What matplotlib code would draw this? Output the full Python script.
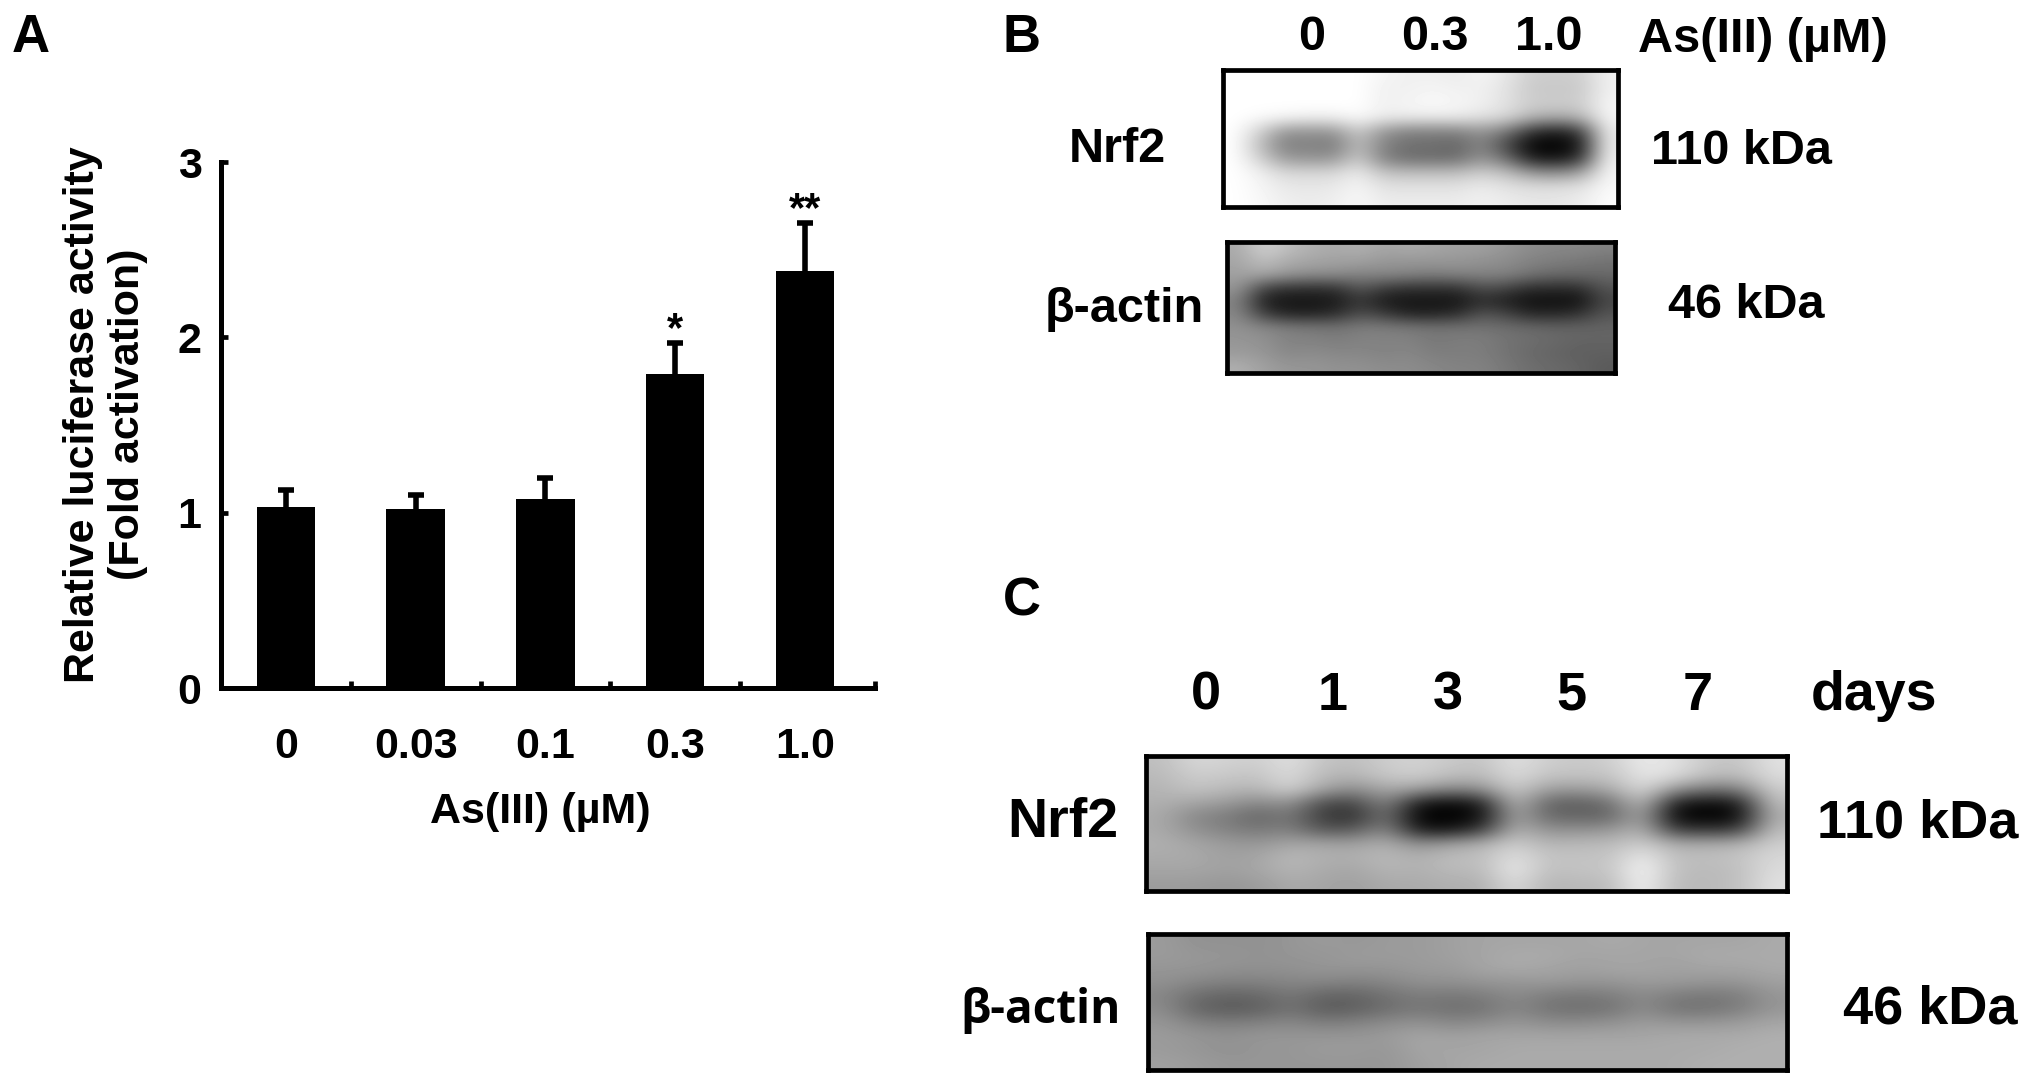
import numpy as np
import matplotlib
matplotlib.use('Agg')
import matplotlib.pyplot as plt

W, H = 2031, 1083
plt.rcParams['font.family'] = ['Liberation Sans', 'DejaVu Sans']
plt.rcParams['font.weight'] = 'bold'

# panel A values
doses = ['0', '0.03', '0.1', '0.3', '1.0']
activity = [1.035, 1.02, 1.08, 1.79, 2.38]
err_top = [1.13, 1.10, 1.20, 1.97, 2.65]
stars = ['', '', '', '*', '**']

# grey levels read from the blots (rows top to bottom)
blot_b_nrf2 = [
    [255, 255, 255, 255, 255, 255, 245, 240, 240, 235, 245, 230, 205, 205, 205, 240],
    [255, 255, 255, 255, 255, 255, 240, 240, 245, 240, 240, 225, 200, 200, 200, 240],
    [255, 255, 255, 255, 255, 255, 240, 245, 250, 245, 240, 225, 205, 205, 205, 245],
    [255, 250, 245, 240, 240, 250, 235, 235, 235, 235, 225, 215, 180, 170, 180, 245],
    [255, 210, 150, 150, 150, 205, 150, 130, 130, 130, 150, 120, 50, 30, 60, 235],
    [255, 190, 125, 130, 120, 190, 130, 110, 110, 100, 135, 70, 5, 0, 20, 235],
    [255, 210, 155, 150, 150, 205, 130, 110, 110, 110, 150, 110, 30, 20, 50, 240],
    [255, 240, 215, 215, 215, 235, 195, 190, 190, 190, 205, 190, 150, 140, 160, 245],
    [255, 245, 232, 230, 232, 245, 225, 225, 225, 225, 235, 225, 220, 220, 225, 248],
    [255, 248, 238, 235, 238, 248, 235, 235, 235, 235, 240, 235, 230, 230, 235, 252],
]
blot_b_actin = [
    [170, 210, 190, 175, 170, 175, 165, 170, 165, 160, 160, 150, 140, 135, 135, 130],
    [165, 190, 170, 165, 160, 160, 150, 150, 150, 150, 145, 140, 130, 125, 120, 115],
    [160, 165, 150, 140, 140, 130, 135, 130, 125, 130, 130, 130, 115, 105, 105, 105],
    [150, 70, 50, 50, 50, 90, 60, 50, 50, 50, 80, 70, 45, 45, 45, 85],
    [130, 30, 20, 20, 25, 55, 25, 20, 20, 20, 45, 30, 15, 15, 15, 70],
    [135, 65, 35, 35, 45, 80, 60, 35, 35, 45, 85, 70, 40, 40, 50, 85],
    [145, 135, 125, 120, 115, 125, 125, 120, 115, 115, 115, 110, 105, 100, 100, 100],
    [150, 145, 130, 130, 125, 130, 130, 130, 120, 125, 125, 115, 110, 105, 100, 100],
    [155, 150, 135, 140, 135, 135, 130, 135, 125, 125, 125, 115, 105, 100, 95, 95],
    [175, 160, 150, 150, 145, 145, 140, 140, 135, 130, 130, 120, 110, 105, 100, 90],
]
blot_c_nrf2 = [
    [190, 215, 210, 205, 225, 195, 190, 205, 210, 200, 195, 225, 205, 200, 205, 235, 225, 200, 195, 225],
    [185, 205, 200, 195, 220, 185, 180, 200, 205, 190, 185, 220, 195, 195, 195, 230, 220, 190, 185, 220],
    [180, 195, 185, 180, 210, 165, 140, 170, 160, 135, 145, 205, 160, 155, 170, 220, 150, 120, 125, 205],
    [175, 165, 155, 135, 150, 75, 70, 140, 25, 10, 30, 190, 100, 95, 110, 195, 30, 15, 25, 190],
    [170, 135, 125, 100, 120, 60, 45, 120, 0, 0, 10, 170, 105, 100, 100, 170, 5, 0, 5, 175],
    [170, 145, 130, 120, 130, 85, 90, 140, 25, 20, 60, 180, 145, 145, 150, 180, 60, 55, 60, 190],
    [175, 165, 155, 150, 165, 165, 160, 175, 140, 160, 175, 205, 180, 185, 185, 205, 170, 170, 175, 205],
    [170, 170, 160, 165, 185, 175, 175, 185, 175, 190, 190, 225, 195, 195, 195, 235, 190, 190, 195, 215],
    [165, 165, 160, 165, 180, 170, 165, 180, 175, 185, 185, 235, 190, 195, 195, 250, 190, 185, 190, 220],
    [155, 155, 150, 155, 170, 165, 160, 170, 170, 175, 175, 220, 180, 185, 185, 245, 185, 185, 190, 225],
]
blot_c_actin = [
    [155, 145, 145, 145, 150, 155, 150, 155, 155, 160, 165, 165, 165, 165, 170, 165, 165, 165, 165, 170],
    [155, 150, 150, 145, 150, 150, 155, 155, 155, 160, 165, 170, 170, 165, 165, 165, 165, 170, 170, 170],
    [150, 150, 145, 145, 145, 150, 150, 150, 155, 155, 165, 170, 165, 160, 165, 165, 160, 165, 165, 170],
    [145, 135, 130, 130, 135, 135, 130, 135, 145, 145, 150, 150, 155, 150, 150, 155, 155, 150, 150, 160],
    [135, 110, 100, 105, 120, 100, 100, 115, 125, 120, 125, 140, 125, 120, 125, 140, 125, 120, 125, 150],
    [140, 100, 90, 95, 115, 90, 95, 110, 120, 110, 115, 135, 115, 110, 115, 140, 115, 115, 125, 150],
    [150, 130, 125, 130, 135, 125, 130, 140, 145, 135, 140, 150, 140, 140, 145, 155, 150, 150, 155, 165],
    [155, 150, 145, 150, 150, 150, 150, 155, 165, 160, 165, 165, 165, 165, 165, 165, 170, 170, 170, 175],
    [155, 150, 145, 150, 150, 155, 155, 150, 165, 165, 165, 170, 170, 170, 170, 170, 170, 170, 175, 175],
    [160, 155, 150, 150, 150, 150, 150, 150, 160, 165, 170, 170, 170, 170, 170, 170, 170, 175, 175, 175],
]


def px_axes(x0, y0, x1, y1):
    return fig.add_axes([x0 / W, 1 - y1 / H, (x1 - x0) / W, (y1 - y0) / H])


def label(x, y, s, size=35, **kw):
    fig.text(x / W, 1 - y / H, s, ha='center', va='center', fontsize=size,
             fontweight='bold', color='black', **kw)


def blot(grid, box):
    ax = px_axes(*box)
    ax.imshow(np.array(grid), cmap='gray', vmin=0, vmax=255, aspect='auto',
              interpolation='bicubic')
    ax.set_xticks([])
    ax.set_yticks([])
    for s in ax.spines.values():
        s.set_linewidth(3.4)
        s.set_color('black')


fig = plt.figure(figsize=(W / 100, H / 100), dpi=100, facecolor='white')

# Panel A
ax = px_axes(221, 162, 875, 688)
x = np.arange(len(doses))
ax.bar(x, activity, width=0.45, color='black')
_, caps, _ = ax.errorbar(x, activity, yerr=[np.zeros(5), np.array(err_top) - np.array(activity)],
                         fmt='none', ecolor='black', elinewidth=4, capsize=6, capthick=4)
caps[0].set_visible(False)
for xi, top, s in zip(x, err_top, stars):
    if s:
        ax.text(xi, top - 0.04, s, ha='center', va='bottom', fontsize=30, fontweight='bold')

ax.set_xlim(-0.5, 4.54)
ax.set_ylim(0, 3)
ax.set_xticks(x)
ax.set_xticklabels(doses, fontsize=31)
ax.set_xticks([-0.5, 0.5, 1.5, 2.5, 3.5, 4.54], minor=True)
ax.set_yticks([0, 1, 2, 3])
ax.tick_params(axis='x', which='major', length=0, pad=28)
ax.tick_params(axis='x', which='minor', direction='in', length=5, width=3.4)
ax.tick_params(axis='y', direction='in', length=5, width=3.4, labelsize=31, pad=14)
for s in ['top', 'right']:
    ax.spines[s].set_visible(False)
for s in ['left', 'bottom']:
    ax.spines[s].set_linewidth(3.6)
ax.set_xlabel('As(III) (µM)', fontsize=31, fontweight='bold', labelpad=18)
ax.xaxis.label.set_x(0.488)
ax.set_ylabel('Relative luciferase activity\n(Fold activation)', fontsize=31,
              fontweight='bold', va='center', linespacing=1.15)
ax.yaxis.set_label_coords(-0.177, 0.52)

# Panel B
blot(blot_b_nrf2, (1223, 70, 1618, 207))
blot(blot_b_actin, (1227, 242, 1615, 373))

# Panel C
blot(blot_c_nrf2, (1146, 756, 1787, 891))
blot(blot_c_actin, (1148, 934, 1787, 1070))

label(31, 38, 'A', size=38)
label(1022, 38, 'B', size=38)
label(1022, 602, 'C', size=38)

for xc, s in zip([1312, 1435, 1549], ['0', '0.3', '1.0']):
    label(xc, 38, s, size=35)
label(1763, 39, 'As(III) (µM)', size=35)
label(1117, 149, 'Nrf2', size=35)
label(1741, 151, '110 kDa', size=35)
label(1124, 310, 'β-actin', size=35)
label(1746, 306, '46 kDa', size=35)

for xc, s in zip([1206, 1333, 1448, 1571, 1698], ['0', '1', '3', '5', '7']):
    label(xc, 696, s, size=39)
label(1874, 696, 'days', size=40)
label(1063, 823, 'Nrf2', size=40)
label(1918, 824, '110 kDa', size=39)
label(1041, 1010, 'β-actin', size=33, family=['Open Sans', 'DejaVu Sans'])
label(1930, 1010, '46 kDa', size=39)

fig.savefig('out.png', dpi=100)
